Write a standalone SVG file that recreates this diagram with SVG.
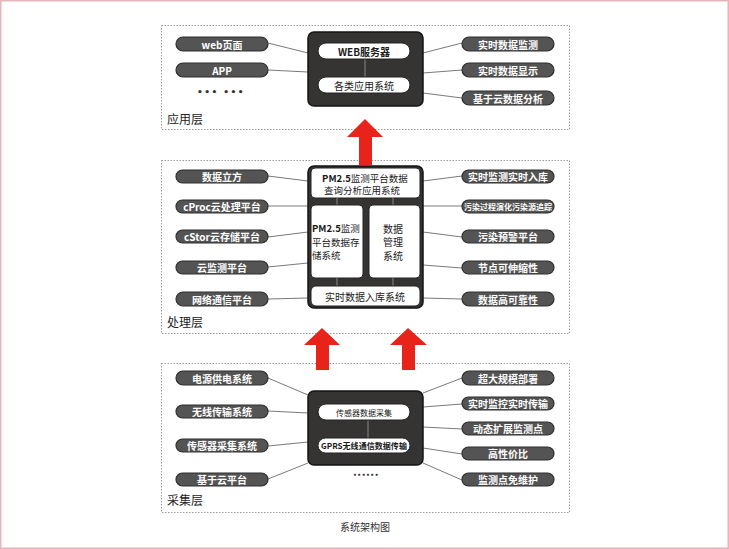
<svg xmlns="http://www.w3.org/2000/svg" width="729" height="549" viewBox="0 0 729 549">
<style>
.bg{fill:#fff}
.frame{fill:none;stroke:#e6b5bb;stroke-width:1.5}
.layer{fill:none;stroke:#9a9a9a;stroke-width:1;stroke-dasharray:1.5 1.5}
.pill{fill:#545454;stroke:#2e2e2e;stroke-width:1.2}
.pt{fill:#fff;font-family:"Noto Sans CJK SC","Noto Sans",sans-serif;font-size:10px;font-weight:bold;text-anchor:middle;dominant-baseline:central}
.box{fill:#363333;stroke:#151515;stroke-width:1.5}
.wp{fill:#fff;stroke:#222;stroke-width:1}
.wt{fill:#1a1a1a;font-family:"Noto Sans CJK SC","Noto Sans",sans-serif;font-size:10px;text-anchor:middle;dominant-baseline:central}
.wl{fill:#1a1a1a;font-family:"Noto Sans CJK SC","Noto Sans",sans-serif;font-size:10px;text-anchor:start;dominant-baseline:central}
.lbl{fill:#222;font-family:"Noto Sans CJK SC",sans-serif;font-size:12px}
.con{stroke:#7a7a7a;stroke-width:1;fill:none}
.link{stroke:#888;stroke-width:1}
.arrow{fill:#e8231a}
.dots{fill:#333;font-family:"DejaVu Sans",sans-serif;font-weight:bold;text-anchor:middle}
</style>
<rect class="bg" x="0" y="0" width="729" height="549"/>
<rect class="frame" x="0.75" y="0.75" width="727.5" height="547.5"/>

<!-- layer frames -->
<g id="layer-app">
<rect class="layer" x="161.5" y="25.5" width="408" height="104"/>
<text class="lbl" x="167" y="124">应用层</text>
</g>
<g id="layer-proc">
<rect class="layer" x="161.5" y="160.5" width="408" height="173"/>
<text class="lbl" x="167" y="327">处理层</text>
</g>
<g id="layer-coll">
<rect class="layer" x="161.5" y="363.5" width="408" height="149"/>
<text class="lbl" x="167" y="505">采集层</text>
</g>

<!-- connectors -->
<g id="connectors">
<line class="con" x1="268" y1="43" x2="308" y2="53"/>
<line class="con" x1="268" y1="70" x2="308" y2="72"/>
<line class="con" x1="423" y1="53" x2="462" y2="43"/>
<line class="con" x1="423" y1="73" x2="462" y2="70"/>
<line class="con" x1="423" y1="93" x2="462" y2="98"/>

<line class="con" x1="268" y1="176" x2="308" y2="181"/>
<line class="con" x1="268" y1="206" x2="308" y2="206"/>
<line class="con" x1="268" y1="237" x2="308" y2="232"/>
<line class="con" x1="268" y1="267" x2="308" y2="263"/>
<line class="con" x1="268" y1="299" x2="308" y2="298"/>
<line class="con" x1="423" y1="181" x2="462" y2="176"/>
<line class="con" x1="423" y1="206" x2="462" y2="206"/>
<line class="con" x1="423" y1="232" x2="462" y2="237"/>
<line class="con" x1="423" y1="265" x2="462" y2="268"/>
<line class="con" x1="423" y1="298" x2="462" y2="299"/>

<line class="con" x1="268" y1="378" x2="308" y2="395"/>
<line class="con" x1="268" y1="411" x2="308" y2="413"/>
<line class="con" x1="268" y1="446" x2="308" y2="442"/>
<line class="con" x1="268" y1="479" x2="308" y2="463"/>
<line class="con" x1="423" y1="393" x2="462" y2="378"/>
<line class="con" x1="423" y1="407" x2="462" y2="404"/>
<line class="con" x1="423" y1="427" x2="462" y2="429"/>
<line class="con" x1="423" y1="448" x2="462" y2="454"/>
<line class="con" x1="423" y1="463" x2="462" y2="480"/>

<polygon class="arrow" points="365,119 383,137 372,137 372,165 359,165 359,137 347,137"/>
<polygon class="arrow" points="322,328 340,345 329,345 329,370 316,370 316,345 304,345"/>
<polygon class="arrow" points="408,328 427,345 415,345 415,370 402,370 402,345 390,345"/>
</g>

<!-- application layer -->
<g id="app-left">
<rect class="pill" x="176" y="37" width="92" height="14" rx="7"/><text class="pt" x="222" y="44">web页面</text>
<rect class="pill" x="176" y="63" width="92" height="14" rx="7"/><text class="pt" x="222" y="70">APP</text>
<text class="dots" x="221" y="95" style="font-size:9px" letter-spacing="1.5">••• •••</text>
</g>
<g id="app-core">
<rect class="box" x="308" y="32" width="115" height="74" rx="6"/>
<line class="link" x1="365" y1="59" x2="365" y2="77"/>
<rect class="wp" x="318" y="43" width="92" height="16" rx="8"/><text class="wt" x="364" y="51" style="font-weight:bold">WEB服务器</text>
<rect class="wp" x="318" y="77" width="92" height="16" rx="8"/><text class="wt" x="364" y="85">各类应用系统</text>
</g>
<g id="app-right">
<rect class="pill" x="462" y="37" width="92" height="14" rx="7"/><text class="pt" x="508" y="44">实时数据监测</text>
<rect class="pill" x="462" y="63" width="92" height="14" rx="7"/><text class="pt" x="508" y="70">实时数据显示</text>
<rect class="pill" x="462" y="91" width="92" height="14" rx="7"/><text class="pt" x="508" y="98">基于云数据分析</text>
</g>

<!-- processing layer -->
<g id="proc-left">
<rect class="pill" x="176" y="170" width="92" height="13" rx="6.5"/><text class="pt" x="222" y="176.5">数据立方</text>
<rect class="pill" x="176" y="200" width="92" height="13" rx="6.5"/><text class="pt" x="222" y="206.5">cProc云处理平台</text>
<rect class="pill" x="176" y="230" width="92" height="13" rx="6.5"/><text class="pt" x="222" y="236.5">cStor云存储平台</text>
<rect class="pill" x="176" y="261" width="92" height="13" rx="6.5"/><text class="pt" x="222" y="267.5">云监测平台</text>
<rect class="pill" x="176" y="292" width="92" height="14" rx="7"/><text class="pt" x="222" y="299">网络通信平台</text>
</g>
<g id="proc-core">
<rect class="box" x="308" y="166" width="115" height="142" rx="6" stroke-width="2"/>
<rect class="wp" x="311" y="168" width="109" height="30" rx="4"/>
<text class="wt" x="365" y="177.5" style="font-size:9.5px"><tspan font-weight="bold">PM2.5</tspan>监测平台数据</text>
<text class="wt" x="362" y="190" style="font-size:9.5px">查询分析应用系统</text>
<line class="link" x1="337" y1="198" x2="337" y2="205"/>
<line class="link" x1="393" y1="198" x2="393" y2="205"/>
<rect class="wp" x="311" y="205" width="52" height="73" rx="4"/>
<text class="wl" x="312" y="228" style="font-size:9.5px"><tspan font-weight="bold">PM2.5</tspan>监测</text>
<text class="wl" x="312" y="241.5" style="font-size:9.5px">平台数据存</text>
<text class="wl" x="312" y="255" style="font-size:9.5px">储系统</text>
<rect class="wp" x="369" y="205" width="51" height="73" rx="4"/>
<text class="wt" x="393" y="228">数据</text>
<text class="wt" x="393" y="241.5">管理</text>
<text class="wt" x="393" y="255">系统</text>
<line class="link" x1="337" y1="278" x2="337" y2="286"/>
<line class="link" x1="393" y1="278" x2="393" y2="286"/>
<rect class="wp" x="311" y="286" width="109" height="20" rx="5"/>
<text class="wt" x="365" y="296">实时数据入库系统</text>
</g>
<g id="proc-right">
<rect class="pill" x="462" y="170" width="92" height="13" rx="6.5"/><text class="pt" x="508" y="176.5">实时监测实时入库</text>
<rect class="pill" x="462" y="200" width="92" height="13" rx="6.5"/><text class="pt" x="508" y="206.5" style="font-size:7.5px" textLength="88" lengthAdjust="spacingAndGlyphs">污染过程演化污染源追踪</text>
<rect class="pill" x="462" y="230" width="92" height="13" rx="6.5"/><text class="pt" x="508" y="236.5">污染预警平台</text>
<rect class="pill" x="462" y="261" width="92" height="13" rx="6.5"/><text class="pt" x="508" y="267.5">节点可伸缩性</text>
<rect class="pill" x="462" y="292" width="92" height="14" rx="7"/><text class="pt" x="508" y="299">数据高可靠性</text>
</g>

<!-- collection layer -->
<g id="coll-left">
<rect class="pill" x="176" y="371" width="92" height="14" rx="7"/><text class="pt" x="222" y="378">电源供电系统</text>
<rect class="pill" x="176" y="405" width="92" height="13" rx="6.5"/><text class="pt" x="222" y="411.5">无线传输系统</text>
<rect class="pill" x="176" y="439" width="92" height="13" rx="6.5"/><text class="pt" x="222" y="445.5">传感器采集系统</text>
<rect class="pill" x="176" y="473" width="92" height="13" rx="6.5"/><text class="pt" x="222" y="479.5">基于云平台</text>
</g>
<g id="coll-core">
<rect class="box" x="308" y="391" width="115" height="74" rx="6"/>
<line class="link" x1="368" y1="420" x2="368" y2="438"/>
<rect class="wp" x="318" y="404" width="92" height="16" rx="8"/><text class="wt" x="364" y="412" style="font-size:8px">传感器数据采集</text>
<rect class="wp" x="318" y="438" width="92" height="15" rx="7.5"/><text class="wt" x="364" y="445.5" style="font-size:8px;font-weight:bold" textLength="86" lengthAdjust="spacingAndGlyphs">GPRS无线通信数据传输</text>
<text class="dots" x="366" y="477" style="font-size:6px" letter-spacing="0.5">••••••</text>
</g>
<g id="coll-right">
<rect class="pill" x="462" y="371" width="92" height="14" rx="7"/><text class="pt" x="508" y="378">超大规模部署</text>
<rect class="pill" x="462" y="397" width="92" height="13" rx="6.5"/><text class="pt" x="508" y="403.5">实时监控实时传输</text>
<rect class="pill" x="462" y="422" width="92" height="13" rx="6.5"/><text class="pt" x="508" y="428.5">动态扩展监测点</text>
<rect class="pill" x="462" y="447" width="92" height="13" rx="6.5"/><text class="pt" x="508" y="453.5">高性价比</text>
<rect class="pill" x="462" y="473" width="92" height="13" rx="6.5"/><text class="pt" x="508" y="479.5">监测点免维护</text>
</g>

<text id="caption" x="365" y="531" fill="#333" font-family="Noto Sans CJK SC,sans-serif" font-size="10" text-anchor="middle">系统架构图</text>
</svg>
